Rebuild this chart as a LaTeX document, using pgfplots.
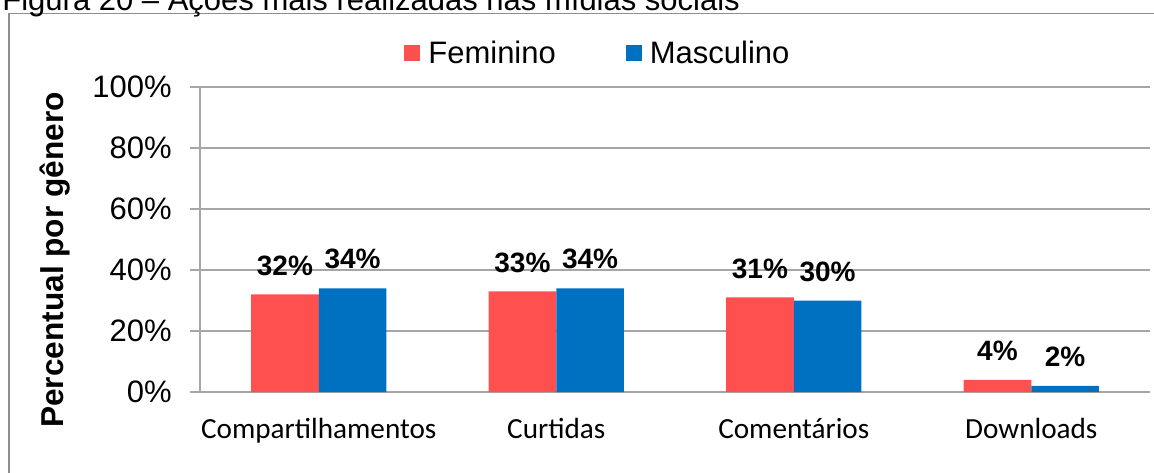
\documentclass[border=0pt]{standalone}
\usepackage{pgfplots}
\pgfplotsset{compat=1.18}
\usepackage{fontspec}
\setmainfont{Liberation Sans}
\newfontfamily\carlito{Carlito}
\definecolor{fem}{HTML}{FF5050}
\definecolor{masc}{HTML}{0070C0}
\definecolor{gridc}{HTML}{A6A6A6}
\definecolor{framec}{HTML}{8E8E8E}
\pgfplotsset{sqlegend/.style={legend image code/.code={\fill[##1] (0pt,-4pt) rectangle (8pt,4pt);}}}
\begin{document}
\begin{tikzpicture}
\path[use as bounding box] (0,0) rectangle (577pt,-236pt);
\draw[framec, line width=0.75pt] (4.5pt,-6.75pt) rectangle (620pt,-260pt);
\node[anchor=base west, inner sep=0pt, font=\fontsize{15.5}{18}\selectfont] at (1pt,-5.3pt) {Figura 20 – Ações mais realizadas nas mídias sociais};
\node[rotate=90, inner sep=0pt, font=\bfseries\fontsize{15.8}{18}\selectfont] at (27.5pt,-130pt) {Percentual por gênero};
\begin{axis}[
  at={(100pt,-196pt)}, anchor=south west,
  scale only axis, width=475pt, height=152.5pt,
  xmin=-0.5, xmax=3.5, ymin=0, ymax=100,
  enlargelimits=false,
  ybar=0pt, bar width=0.285,
  axis lines*=left, axis line style={-, draw=gridc, line width=0.6pt},
  ymajorgrids, grid style={draw=gridc, line width=0.6pt},
  ytick={0,20,40,60,80,100}, yticklabels={0\%,20\%,40\%,60\%,80\%,100\%},
  ytick style={draw=gridc, line width=0.6pt}, tick align=outside, major tick length=5pt,
  yticklabel style={font=\fontsize{15.5}{18}\selectfont, anchor=east, inner sep=0pt, xshift=-9pt},
  xtick={0,1,2,3}, xticklabels={Compartilhamentos,Curtidas,Comentários,Downloads},
  xtick style={draw=none},
  xticklabel style={font=\carlito\fontsize{14.6}{17}\selectfont, anchor=base, inner sep=0pt, yshift=-18pt},
  nodes near coords={\pgfmathprintnumber[assume math mode=true]{\pgfplotspointmeta}\%},
  every node near coord/.append style={font=\bfseries\fontsize{14}{16}\selectfont, inner sep=0pt, anchor=south, yshift=9.3pt, black},
  legend style={at={(0.2147,1.11)}, anchor=west, draw=none, fill=none, inner sep=0pt, legend columns=2, font=\fontsize{15.5}{18}\selectfont, /tikz/every odd column/.append style={column sep=4pt}, /tikz/every even column/.append style={column sep=35pt}, nodes={inner sep=0pt}},
  clip=false,
]
\addplot[fill=fem, draw=none, sqlegend] coordinates {(0,32) (1,33) (2,31) (3,4)};
\addplot[fill=masc, draw=none, sqlegend] coordinates {(0,34) (1,34) (2,30) (3,2)};
\legend{Feminino, Masculino}
\end{axis}
\end{tikzpicture}
\end{document}
